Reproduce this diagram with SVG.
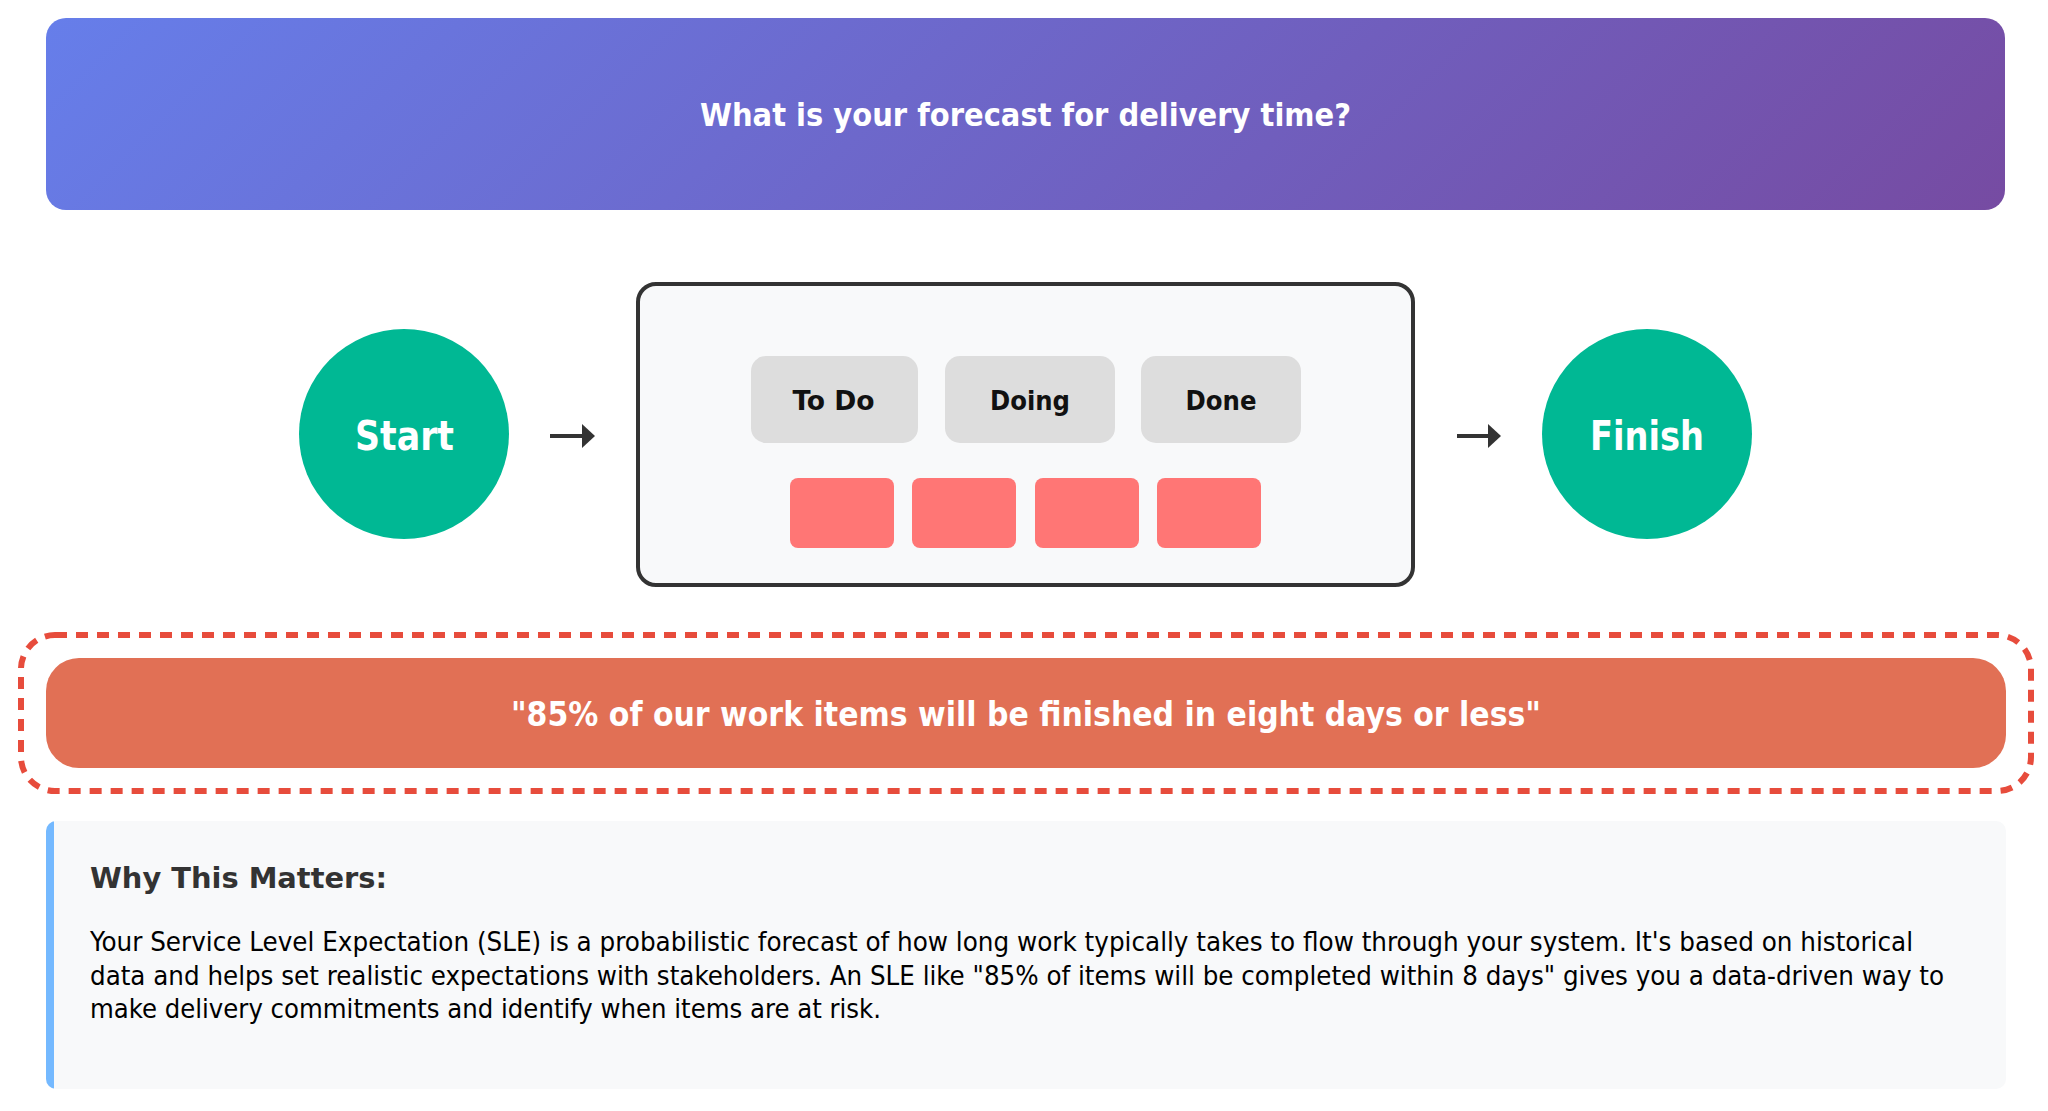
<svg xmlns="http://www.w3.org/2000/svg" width="2048" height="1111" viewBox="0 0 2048 1111">
  <defs>
    <linearGradient id="hdrGrad" gradientUnits="userSpaceOnUse" x1="487" y1="-424" x2="1564" y2="652">
      <stop offset="0" stop-color="#667eea"/>
      <stop offset="1" stop-color="#764ba2"/>
    </linearGradient>
    <marker id="arrowHead" markerUnits="userSpaceOnUse" markerWidth="14" markerHeight="26" refX="0" refY="12" orient="auto" viewBox="0 0 14 26">
      <path d="M0,0 L13,12 L0,24 z" fill="#333"/>
    </marker>
    <clipPath id="panelClip">
      <rect x="46" y="821" width="1960" height="268" rx="10"/>
    </clipPath>
    <style>
      .f { font-family: "DejaVu Sans Condensed", "DejaVu Sans", "Liberation Sans", sans-serif; font-stretch: condensed; }
      .b { font-weight: bold; }
      .white { fill: #ffffff; }
      .circle { fill: #00b894; }
      .col { fill: #dddddd; }
      .card { fill: #ff7675; }
      .conn { stroke: #333; stroke-width: 4; fill: none; marker-end: url(#arrowHead); }
    </style>
  </defs>

  <rect width="2048" height="1111" fill="#ffffff"/>

  <g id="header">
    <rect x="46" y="18" width="1959" height="192" rx="20" fill="url(#hdrGrad)"/>
    <text class="f b white" x="1025.5" y="126" font-size="32" text-anchor="middle" textLength="651" lengthAdjust="spacingAndGlyphs">What is your forecast for delivery time?</text>
  </g>

  <g id="start">
    <circle class="circle" cx="404" cy="434" r="105"/>
    <text class="f b white" x="404.5" y="450" font-size="40" text-anchor="middle" textLength="99" lengthAdjust="spacingAndGlyphs">Start</text>
  </g>

  <g id="board">
    <rect x="638" y="284" width="775" height="301" rx="18" fill="#f8f9fa" stroke="#333" stroke-width="4"/>
    <g id="col-todo">
      <rect class="col" x="751" y="356" width="167" height="87" rx="15"/>
      <text class="f b" x="833.5" y="410" font-size="27" fill="#111" text-anchor="middle" textLength="82" lengthAdjust="spacingAndGlyphs">To Do</text>
    </g>
    <g id="col-doing">
      <rect class="col" x="945" y="356" width="170" height="87" rx="15"/>
      <text class="f b" x="1030" y="410" font-size="27" fill="#111" text-anchor="middle" textLength="80" lengthAdjust="spacingAndGlyphs">Doing</text>
    </g>
    <g id="col-done">
      <rect class="col" x="1141" y="356" width="160" height="87" rx="15"/>
      <text class="f b" x="1221" y="410" font-size="27" fill="#111" text-anchor="middle" textLength="71" lengthAdjust="spacingAndGlyphs">Done</text>
    </g>
    <g id="cards">
      <rect class="card" x="790" y="478" width="104" height="70" rx="8"/>
      <rect class="card" x="912" y="478" width="104" height="70" rx="8"/>
      <rect class="card" x="1035" y="478" width="104" height="70" rx="8"/>
      <rect class="card" x="1157" y="478" width="104" height="70" rx="8"/>
    </g>
  </g>

  <g id="finish">
    <circle class="circle" cx="1647" cy="434" r="105"/>
    <text class="f b white" x="1647" y="450" font-size="40" text-anchor="middle" textLength="114" lengthAdjust="spacingAndGlyphs">Finish</text>
  </g>

  <g id="connectors">
    <line class="conn" x1="550" y1="436" x2="582" y2="436"/>
    <line class="conn" x1="1457" y1="436" x2="1488" y2="436"/>
  </g>

  <g id="sle">
    <rect x="21" y="635" width="2010" height="156" rx="34" fill="none" stroke="#e74c3c" stroke-width="6" stroke-dasharray="12 9"/>
    <rect x="46" y="658" width="1960" height="110" rx="33" fill="#e17055"/>
    <text class="f b white" x="1026" y="726" font-size="33" text-anchor="middle" textLength="1030" lengthAdjust="spacingAndGlyphs">"85% of our work items will be finished in eight days or less"</text>
  </g>

  <g id="why">
    <rect x="46" y="821" width="1960" height="268" rx="10" fill="#f8f9fa"/>
    <rect x="46" y="821" width="8" height="268" fill="#74b9ff" clip-path="url(#panelClip)"/>
    <text class="f b" x="90" y="888" font-size="29" fill="#333" textLength="297" lengthAdjust="spacingAndGlyphs">Why This Matters:</text>
    <text class="f" font-size="27" fill="#000">
      <tspan x="90" y="951" textLength="1823" lengthAdjust="spacingAndGlyphs">Your Service Level Expectation (SLE) is a probabilistic forecast of how long work typically takes to flow through your system. It's based on historical</tspan>
      <tspan x="90" y="985" textLength="1854" lengthAdjust="spacingAndGlyphs">data and helps set realistic expectations with stakeholders. An SLE like "85% of items will be completed within 8 days" gives you a data-driven way to</tspan>
      <tspan x="90" y="1018" textLength="791" lengthAdjust="spacingAndGlyphs">make delivery commitments and identify when items are at risk.</tspan>
    </text>
  </g>
</svg>
